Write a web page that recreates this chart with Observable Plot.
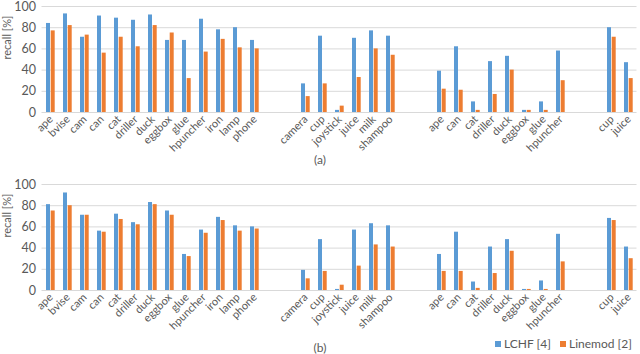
<!DOCTYPE html>
<html>
<head>
<meta charset="utf-8">
<script src="https://cdn.jsdelivr.net/npm/d3@7"></script>
<script src="https://cdn.jsdelivr.net/npm/@observablehq/plot@0.6"></script>
<style>
  html, body { margin: 0; padding: 0; background: #fff; }
  body { width: 640px; height: 354px; position: relative; overflow: hidden; font-family: Lato, "Liberation Sans", sans-serif; color: #595959; }
  .cap { width: 640px; text-align: center; font-size: 12px; height: 17px; line-height: 17px; }
  .row { position: relative; width: 640px; height: 26px; }
  .row .b { position: absolute; left: 0; width: 640px; top: 12px; text-align: center; font-size: 12px; line-height: 16px; }
  .item { position: absolute; top: 336px; font-size: 12px; line-height: 16px; display: flex; align-items: center; white-space: nowrap; }
  .item .sw { display: inline-block; flex: none; width: 6px; height: 6px; margin-right: 3px; }
</style>
</head>
<body>
<div id="a"></div>
<div class="cap">(a)</div>
<div id="b"></div>
<div class="row"><div class="b">(b)</div></div>
<div class="item" style="left:495px"><span class="sw" style="background:#5B9BD5"></span>LCHF [4]</div>
<div class="item" style="left:560px"><span class="sw" style="background:#ED7D31"></span>Linemod [2]</div>
<script>
// ---- data ----
const groupA = ["ape","bvise","cam","can","cat","driller","duck","eggbox","glue","hpuncher","iron","lamp","phone"];
const groupB = ["camera","cup","joystick","juice","milk","shampoo"];
const groupC = ["ape","can","cat","driller","duck","eggbox","glue","hpuncher"];
const groupD = ["cup","juice"];
const seriesNames = ["LCHF [4]", "Linemod [2]"];
const yTicks = [0, 20, 40, 60, 80, 100];

// panel (a)
const lchfA    = [84,93,71,91,89,87,92,68,68,88,78,80,68,  27,72,2,70,77,72,  39,62,10,48,53,2,10,58,  80,47];
const linemodA = [77,82,73,56,71,62,82,75,32,57,69,61,60,  15,27,6,33,60,54,  22,21,2,17,40,2,2,30,    71,32];
// panel (b)
const lchfB    = [81,92,71,56,72,64,83,75,34,57,69,61,60,  19,48,1,57,63,61,  34,55,8,41,48,1,9,53,    68,41];
const linemodB = [75,80,71,55,67,62,81,71,32,54,66,56,58,  11,18,5,23,43,41,  18,18,2,16,37,1,1,27,    66,30];

// ---- build band domain (groups separated by two empty slots) ----
const groups = [groupA, groupB, groupC, groupD];
const keys = groups.flatMap((g, gi) => g.map(n => `${gi}|${n}`));
const domain = [];
groups.forEach((g, gi) => {
  if (gi > 0) domain.push(`gap${gi}a`, `gap${gi}b`);
  g.forEach(n => domain.push(`${gi}|${n}`));
});
const fmt = k => k.startsWith("gap") ? "" : k.split("|")[1];

const BLUE = "#5B9BD5", ORANGE = "#ED7D31", GRID = "#d9d9d9", TEXT = "#595959";

function panel(lchf, linemod, height, marginTop, marginBottom) {
  const rows = keys.map((k, i) => ({key: k, lchf: lchf[i], linemod: linemod[i]}));
  return Plot.plot({
    width: 640, height, marginLeft: 41.5, marginRight: 3.5, marginTop, marginBottom,
    style: {fontFamily: "Lato, 'Liberation Sans', sans-serif", fontSize: "11px", color: TEXT, background: "white", overflow: "visible"},
    x: {domain, padding: 0, label: null},
    y: {domain: [0, 100], label: null},
    marks: [
      Plot.ruleY(yTicks, {stroke: GRID, strokeWidth: 1}),
      Plot.barY(rows, {x: "key", y: "lchf", fill: BLUE, insetLeft: 4, insetRight: 9}),
      Plot.barY(rows, {x: "key", y: "linemod", fill: ORANGE, insetLeft: 8.7, insetRight: 4.3}),
      Plot.axisX({domain, tickFormat: fmt, tickRotate: -45, tickSize: 0, tickPadding: 5, label: null, fill: TEXT}),
      Plot.axisY({ticks: yTicks, tickSize: 0, tickPadding: 6, label: null, fontSize: 12.5, fill: TEXT}),
      Plot.text(["recall [%]"], {frameAnchor: "left", rotate: -90, dx: -35, fontSize: 11, fill: TEXT})
    ]
  });
}

document.getElementById("a").append(panel(lchfA, linemodA, 151, 6, 39));
document.getElementById("b").append(panel(lchfB, linemodB, 160, 16, 38));
</script>
</body>
</html>
